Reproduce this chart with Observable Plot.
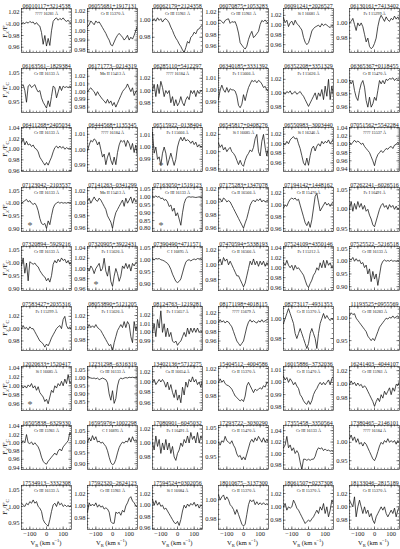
<!DOCTYPE html>
<html><head><meta charset="utf-8">
<script src="https://cdn.jsdelivr.net/npm/d3@7"></script>
<script src="https://cdn.jsdelivr.net/npm/@observablehq/plot@0.6"></script>
<style>
body{margin:0;background:#fff;}
#wrap{position:relative;width:400px;height:549px;font-family:"Liberation Serif","Times New Roman",serif;color:#111;overflow:hidden;}
.pan{position:absolute;}
.pan svg{overflow:visible;display:block;}
.ylab{position:absolute;transform:translate(-50%,-50%) rotate(-90deg);font-size:7px;white-space:nowrap;line-height:1;}
.xlab{position:absolute;transform:translate(-50%,-50%);font-size:6.5px;white-space:nowrap;line-height:1;}
sub,sup{font-size:70%;line-height:0;}
</style></head>
<body><div id="wrap"></div>
<script>
// ---------- data ----------
const velocity = [-150,-140,-130,-120,-110,-100,-90,-80,-70,-60,-50,-40,-30,-20,-10,0,10,20,30,40,50,60,70,80,90,100,110,120,130,140,150];
const xTickValues = [-100, 0, 100];

const starIds = [
 "06010117+3214538","06055681+1917131","06062179+2124358","06070875+1053283","06091241+2026527","06130161+7413402",
 "06163561−1829384","06171773−0214319","06285110+5412297","06340185+3331392","06352208+3351329","06365367+0118455",
 "06411268+2405034","06444568+1135345","06515922−0138404","06545817+0408276","06550983−3003440","07051562+5542284",
 "07123042−2103537","07141263−0341299","07163050+1519123","07175283+1347078","07194142+1448162","07262241−6026516",
 "07320894−5929216","07320905+3922431","07390490+4711571","07470594+5338193","07524109+4350146","07525522−5216518",
 "07583427+2035316","08053890+5121205","08124763−1219281","08171198+4018115","08273117−4931353","11193525+0955569",
 "12020633+1520417","12231298−6316319","13402136+5712275","15404512−4004586","16015886−3732036","16241403−4044107",
 "16505838−6329330","16595976+1002298","17080901−6045032","17293722−3030290","17355458−3350564","17380465−2146101",
 "17534913−3332308","17592320−2624123","17594524+0302056","18010675−3137300","18061507+0237308","18133046−2815189"];

const lineLabels = [
 "???? 16281 Å","Cr II 15370 Å","Cr III 15961 Å","Cr III 15961 Å","Si I 16681 Å","Fe I 15299 Å",
 "Cr III 16133 Å","Mn II 15413 Å","???? 16184 Å","Fe I 15666 Å","Fe I 15626 Å","Cr II 15470 Å",
 "Cr III 16133 Å","???? 16184 Å","Fe I 15666 Å","Si I 16685 Å","Si I 16246 Å","???? 15537 Å",
 "Cr III 16133 Å","Mn II 15413 Å","Cr III 16133 Å","Ca II 16566 Å","Cr II 15470 Å","Fe I 16491 Å",
 "Cr III 16133 Å","Fe I 15626 Å","C I 16895 Å","Cr II 16566 Å","Fe I 15212 Å","Cr III 16133 Å",
 "Fe I 15299 Å","Fe I 15626 Å","Fe I 15657 Å","???? 15679 Å","Cr II 15370 Å","Cr III 16283 Å",
 "Si I 16685 Å","Cr III 16133 Å","Ca II 16654 Å","Cr II 15370 Å","Cr II 15470 Å","Cr III 15961 Å",
 "Cr III 15961 Å","C I 16895 Å","Fe I 16491 Å","Cr II 15470 Å","Cr III 16133 Å","???? 16184 Å",
 "Cr III 16133 Å","Cr III 15961 Å","Si I 16084 Å","Cr II 15370 Å","Cr II 15370 Å","Cr II 15370 Å"];

const starred = ["06515922−0138404","07123042−2103537","07163050+1519123","07320905+3922431","12020633+1520417"];

const yDomains = [
 [0.951,1.026],[0.977,1.023],[0.962,1.014],[0.949,1.026],[0.944,1.034],[0.961,1.019],
 [0.915,1.065],[0.973,1.030],[0.964,1.036],[0.981,1.018],[0.971,1.036],[0.952,1.018],
 [0.958,1.041],[0.9855,1.0145],[0.980,1.016],[0.977,1.028],[0.942,1.034],[0.934,1.041],
 [0.888,1.062],[0.955,1.025],[0.780,1.062],[0.955,1.022],[0.955,1.030],[0.943,1.056],
 [0.892,1.065],[0.957,1.043],[0.872,1.055],[0.965,1.025],[0.954,1.043],[0.885,1.058],
 [0.9645,1.036],[0.962,1.035],[0.979,1.030],[0.940,1.033],[0.968,1.012],[0.928,1.026],
 [0.945,1.043],[0.795,1.073],[0.945,1.030],[0.959,1.023],[0.977,1.013],[0.962,1.026],
 [0.935,1.042],[0.873,1.077],[0.962,1.025],[0.907,1.057],[0.972,1.049],[0.926,1.046],
 [0.930,1.064],[0.962,1.033],[0.958,1.034],[0.9695,1.0147],[0.966,1.032],[0.966,1.032]];

const yTicks = [
 [0.96,0.98,1.00,1.02],[0.98,0.99,1.00,1.01,1.02],[0.98,1.00],[0.96,0.98,1.00,1.02],[0.96,0.98,1.00,1.02],[0.98,1.00],
 [0.95,1.00,1.05],[0.98,0.99,1.00,1.01,1.02],[0.98,1.00,1.02],[0.99,1.00,1.01],[0.98,1.00,1.02],[0.96,0.98,1.00],
 [0.96,0.98,1.00,1.02,1.04],[0.99,1.00,1.01],[0.99,1.00,1.01],[0.98,1.00,1.02],[0.96,0.98,1.00,1.02],[0.94,0.96,0.98,1.00,1.02,1.04],
 [0.90,0.95,1.00,1.05],[0.96,0.98,1.00,1.02],[0.80,0.85,0.90,0.95,1.00,1.05],[0.96,0.98,1.00,1.02],[0.96,0.98,1.00,1.02],[0.95,1.00,1.05],
 [0.90,0.95,1.00,1.05],[0.96,0.98,1.00,1.02,1.04],[0.90,0.95,1.00,1.05],[0.98,1.00,1.02],[0.96,0.98,1.00,1.02,1.04],[0.90,0.95,1.00,1.05],
 [0.98,1.00,1.02],[0.98,1.00,1.02],[0.99,1.00,1.01,1.02],[0.96,0.98,1.00,1.02],[0.98,1.00],[0.95,1.00],
 [0.96,0.98,1.00,1.02,1.04],[0.85,0.90,0.95,1.00,1.05],[0.96,0.98,1.00,1.02],[0.98,1.00,1.02],[0.98,0.99,1.00,1.01],[0.98,1.00,1.02],
 [0.94,0.96,0.98,1.00,1.02,1.04],[0.90,0.95,1.00,1.05],[0.98,1.00,1.02],[0.95,1.00,1.05],[0.98,1.00,1.02,1.04],[0.95,1.00],
 [0.95,1.00,1.05],[0.98,1.00,1.02],[0.96,0.98,1.00,1.02],[0.98,1.00],[0.98,1.00,1.02],[0.98,1.00,1.02]];

const flux01 = [1.000,1.002,1.000,1.003,1.001,1.004,1.002,1.003,0.999,1.002,0.998,0.996,0.985,0.965,0.980,0.962,0.975,0.963,0.988,1.004,1.008,1.010,1.006,1.009,1.007,1.010,1.006,1.004,1.006,1.002,1.001];
const flux02 = [1.004,1.006,1.010,1.008,1.006,1.010,1.008,1.009,1.006,1.003,1.000,0.997,0.993,0.990,0.985,0.984,0.988,0.992,0.995,0.997,0.995,0.993,0.990,0.992,0.995,0.990,0.993,0.991,0.995,1.000,1.005];
const flux03 = [1.000,1.002,0.999,1.003,1.000,1.002,0.998,1.001,1.002,1.000,0.997,0.992,0.988,0.983,0.979,0.976,0.972,0.969,0.965,0.962,0.968,0.975,0.973,0.980,0.982,0.986,0.984,0.989,0.990,0.993,0.994];
const flux04 = [1.005,1.006,1.003,1.000,1.005,1.007,1.008,1.000,1.003,1.002,1.003,0.995,0.983,0.966,0.962,0.958,0.955,0.960,0.972,0.980,0.986,0.975,0.978,0.982,0.986,0.998,1.005,1.003,1.006,1.002,1.000];
const flux05 = [1.015,1.005,1.010,0.997,1.005,1.008,1.000,1.010,1.003,1.000,0.995,0.990,0.975,0.965,0.960,0.964,0.975,0.988,0.993,0.996,0.998,1.000,0.996,1.003,0.999,1.002,1.000,0.997,0.995,0.999,0.997];
const flux06 = [1.000,1.002,1.006,0.998,0.990,1.000,0.996,1.000,0.995,0.985,0.975,0.980,0.969,0.966,0.968,0.973,0.980,0.995,1.005,1.010,1.006,1.002,1.008,1.004,1.002,1.006,1.004,1.009,1.005,1.008,1.004];
const flux07 = [1.005,1.010,0.990,0.950,1.005,1.010,1.000,1.005,1.010,0.995,0.985,0.990,0.965,0.950,0.940,0.930,0.955,0.935,0.970,1.005,1.000,0.965,0.985,1.005,0.990,1.005,1.000,1.003,1.000,1.005,1.000];
const flux08 = [1.000,1.003,1.005,1.002,1.000,0.995,1.000,0.996,0.993,0.990,0.988,0.985,0.990,0.985,0.988,0.982,0.986,0.980,0.985,0.990,0.995,1.000,1.003,1.005,1.010,1.005,1.000,1.005,0.995,1.000,1.002];
const flux09 = [1.000,1.010,0.990,1.010,0.995,1.015,1.005,0.990,1.000,0.995,1.000,0.980,0.990,0.975,0.985,0.975,0.980,0.990,0.980,0.975,0.985,0.990,0.985,1.000,0.995,1.000,0.990,1.000,0.995,1.000,0.998];
const flux10 = [0.992,1.000,1.004,1.000,0.998,1.002,0.998,1.001,1.000,1.000,0.999,0.995,0.987,0.985,0.988,0.996,0.991,0.997,1.002,1.005,1.008,1.007,1.008,1.006,1.008,1.007,1.005,1.002,1.003,1.000,0.999];
const flux11 = [1.000,0.998,1.002,1.000,1.003,0.998,1.000,1.002,0.998,1.000,1.002,0.998,0.995,0.990,0.985,0.980,0.985,0.990,0.995,1.000,0.990,1.000,0.995,1.005,0.990,1.010,0.995,1.020,0.990,1.010,0.995];
const flux12 = [1.000,0.995,1.000,0.985,0.975,0.970,0.985,0.995,1.000,0.990,0.970,0.960,0.975,0.960,0.965,0.975,0.970,0.985,1.000,0.995,1.000,0.995,1.002,1.000,1.003,1.002,1.004,1.000,1.003,1.002,1.003];
const flux13 = [1.012,1.020,1.008,1.015,1.008,1.010,1.005,1.008,1.002,1.000,0.995,0.985,0.980,0.975,0.970,0.975,0.970,0.978,0.985,0.995,1.003,1.006,1.002,1.006,1.002,1.005,1.000,1.003,1.001,1.002,1.000];
const flux14 = [0.999,1.003,1.006,1.005,1.007,1.006,1.003,1.005,1.000,0.995,0.997,0.990,0.995,0.998,0.993,0.990,0.995,0.990,0.998,1.003,1.006,1.005,1.006,1.002,1.006,1.004,1.000,1.004,0.998,1.003,0.995];
const flux15 = [1.012,0.995,1.000,0.990,0.992,0.985,0.995,1.000,0.995,0.985,0.990,0.995,0.990,0.985,0.990,1.000,1.005,1.008,1.005,1.008,1.005,1.006,1.005,1.003,1.005,1.002,1.004,1.000,1.002,1.000,1.001];
const flux16 = [1.010,1.005,1.008,1.002,1.005,1.000,1.003,1.005,1.000,0.998,0.995,0.990,0.985,0.990,0.985,0.983,0.990,0.995,0.998,1.002,1.000,1.005,1.015,1.020,1.000,0.995,1.012,1.020,1.005,0.995,1.005];
const flux17 = [1.000,0.998,1.005,1.000,1.008,1.012,1.015,1.010,1.012,1.000,0.990,0.975,0.960,0.955,0.970,0.955,0.975,0.990,0.995,0.985,0.995,1.000,0.995,1.005,1.000,1.005,1.002,1.008,1.000,1.005,1.010];
const flux18 = [1.005,1.000,1.005,1.010,1.005,1.008,1.005,1.000,1.003,0.995,0.990,0.985,0.980,0.970,0.960,0.948,0.965,0.975,0.980,0.985,0.980,0.985,0.990,0.988,0.993,0.995,0.990,0.998,1.000,1.005,1.000];
const flux19 = [1.000,1.005,1.010,1.015,1.005,1.010,1.000,0.995,1.000,0.990,0.970,0.940,0.920,0.915,0.920,0.900,0.930,0.915,0.950,0.980,0.995,1.000,1.005,1.000,1.003,1.000,1.002,1.000,1.003,1.001,1.002];
const flux20 = [1.003,1.008,1.000,1.005,1.010,1.005,1.003,1.008,1.005,1.000,0.995,0.990,0.980,0.975,0.970,0.960,0.975,0.985,0.990,0.995,1.000,1.005,0.995,1.008,1.000,1.005,1.010,1.000,1.008,1.002,1.005];
const flux21 = [1.005,1.000,1.008,1.000,1.005,0.990,0.995,0.980,0.985,0.970,0.940,0.950,0.910,0.930,0.880,0.900,0.860,0.820,0.900,0.960,0.990,1.000,1.003,1.000,1.002,1.000,0.998,1.000,1.002,1.000,0.998];
const flux22 = [1.003,1.005,1.000,1.006,1.004,1.000,1.002,1.000,0.995,0.990,0.985,0.980,0.975,0.970,0.965,0.960,0.968,0.975,0.985,0.995,1.000,1.003,1.000,1.004,1.002,1.005,1.000,1.003,1.000,1.002,1.003];
const flux23 = [0.995,1.000,0.998,1.005,1.010,1.012,1.010,1.012,1.008,1.010,1.000,0.990,0.980,0.970,0.965,0.972,0.962,0.975,0.995,1.015,1.020,1.005,0.990,0.995,1.000,1.005,1.000,1.003,0.998,1.003,1.005];
const flux24 = [1.000,1.020,0.995,1.015,1.000,1.020,1.005,1.015,1.000,1.010,0.995,1.000,0.985,0.975,0.960,0.955,0.970,0.985,1.000,1.010,1.015,1.005,1.010,1.000,1.012,1.005,1.010,1.000,1.008,1.000,1.005];
const flux25 = [0.990,1.020,0.960,1.000,0.930,1.005,1.000,0.995,1.000,0.990,0.985,0.970,0.960,0.950,0.945,0.930,0.940,0.925,0.950,0.995,1.010,1.000,1.015,1.005,1.020,1.010,1.015,1.000,1.010,0.995,1.005];
const flux26 = [1.000,0.995,1.005,1.000,0.990,1.000,1.005,1.010,0.995,1.000,1.020,0.995,0.985,1.005,0.975,0.965,0.985,1.000,0.990,0.975,0.985,1.005,1.000,1.010,1.000,1.008,0.995,1.010,1.005,1.012,1.010];
const flux27 = [1.005,1.000,1.005,1.003,1.005,1.000,0.998,0.995,0.990,0.985,0.975,0.960,0.940,0.925,0.910,0.905,0.910,0.920,0.945,0.970,0.990,0.998,1.000,0.995,1.000,1.003,1.000,1.005,1.003,1.005,1.000];
const flux28 = [1.003,1.008,1.000,1.010,1.005,1.008,1.000,1.005,1.000,0.995,0.990,0.985,0.985,0.980,0.975,0.970,0.975,0.985,0.995,1.005,1.000,1.008,1.000,1.005,0.998,1.005,1.000,1.005,0.998,1.003,1.000];
const flux29 = [1.010,1.005,1.015,1.005,1.000,1.005,0.995,1.005,0.998,1.000,0.995,0.990,0.985,0.975,0.965,0.960,0.968,0.975,0.985,0.990,1.000,0.995,1.010,1.000,1.015,1.000,1.015,1.005,1.010,1.000,1.005];
const flux30 = [1.010,1.005,1.015,1.000,1.010,1.000,1.005,0.990,0.995,0.975,0.985,0.950,0.970,0.920,0.960,0.930,0.950,0.905,0.945,0.985,1.000,1.005,1.000,1.003,1.000,1.005,1.000,1.002,1.000,1.003,1.000];
const flux31 = [1.000,1.005,1.000,1.002,0.998,1.003,1.000,1.000,0.995,0.990,0.985,0.980,0.978,0.975,0.970,0.975,0.972,0.978,0.985,0.990,0.995,1.000,1.003,1.005,1.000,1.015,1.020,1.005,1.000,1.003,0.998];
const flux32 = [1.000,1.005,1.000,1.003,1.000,1.005,1.000,0.998,0.995,0.990,0.985,0.980,0.975,0.970,0.972,0.960,0.975,0.985,0.995,1.000,1.005,1.000,1.010,1.000,1.010,1.005,0.985,0.975,1.010,0.995,1.005];
const flux33 = [1.000,1.010,0.995,1.015,1.005,1.025,1.000,1.010,0.995,1.005,0.995,1.000,0.990,0.988,0.990,0.985,0.988,0.990,0.995,1.000,0.995,1.005,0.998,1.005,1.000,1.005,1.000,1.005,1.000,1.002,1.000];
const flux34 = [1.000,1.005,1.000,1.003,0.998,1.002,1.000,0.995,0.990,0.980,0.970,0.960,0.955,0.950,0.955,0.960,0.975,0.990,1.000,1.005,1.000,1.003,1.000,0.998,1.003,1.000,1.005,1.000,1.003,1.005,1.008];
const flux35 = [0.995,1.000,1.005,1.010,1.005,1.000,0.995,0.985,0.980,0.985,0.990,0.985,0.980,0.975,0.970,0.975,0.985,0.990,0.985,0.980,0.970,0.985,0.995,1.000,1.005,1.000,1.003,1.000,0.998,1.000,0.998];
const flux36 = [1.005,1.012,1.008,1.010,1.000,0.995,0.990,0.985,0.980,0.975,0.970,0.960,0.955,0.950,0.955,0.950,0.960,0.970,0.980,0.985,0.990,0.995,1.000,0.998,1.002,1.000,1.005,1.000,1.003,1.005,1.000];
const flux37 = [1.000,0.995,1.000,0.995,1.002,0.998,1.005,0.995,1.000,0.990,0.998,0.985,0.980,0.975,0.965,0.970,0.960,0.975,0.990,0.985,1.000,0.995,1.005,1.000,1.010,1.000,1.015,1.005,1.025,1.005,1.010];
const flux38 = [1.010,1.005,1.000,0.998,1.000,0.995,1.000,0.990,0.995,1.000,0.995,0.990,0.970,0.900,0.860,0.920,0.840,0.870,0.950,0.990,1.000,0.995,1.000,1.003,1.000,1.005,1.003,1.005,1.003,1.005,1.003];
const flux39 = [1.000,1.005,0.995,1.000,1.005,1.000,1.005,1.000,0.990,1.000,0.985,0.995,0.980,0.970,0.985,0.965,0.975,0.960,0.990,0.975,1.000,0.990,1.005,1.000,1.010,1.000,1.005,0.995,1.000,0.990,1.005];
const flux40 = [1.000,1.005,1.000,1.003,0.998,0.996,0.995,0.993,0.990,0.985,0.980,0.978,0.975,0.973,0.975,0.972,0.980,0.995,1.000,0.995,0.990,0.985,0.990,0.988,0.990,0.992,0.990,0.995,0.993,1.000,0.998];
const flux41 = [1.005,1.002,1.004,1.000,1.003,1.001,0.998,1.000,0.997,0.995,0.990,0.988,0.985,0.983,0.982,0.985,0.982,0.985,0.990,0.993,0.995,0.998,1.000,0.998,1.000,0.998,1.000,1.002,0.998,1.003,1.005];
const flux42 = [1.000,1.005,1.000,1.003,0.998,1.002,0.998,1.000,0.995,0.998,0.995,0.990,0.985,0.980,0.975,0.968,0.975,0.980,0.975,0.985,0.980,0.990,0.985,0.990,0.995,0.985,0.995,0.990,1.000,0.998,1.005];
const flux43 = [1.000,1.005,1.000,1.020,1.000,0.998,1.002,0.995,1.000,0.995,0.990,0.980,0.965,0.955,0.950,0.948,0.955,0.960,0.965,0.970,0.975,0.970,0.980,0.985,0.980,0.990,0.995,1.000,1.005,1.025,1.020];
const flux44 = [1.000,1.020,1.005,1.030,1.010,1.025,1.000,1.005,0.995,1.000,0.990,0.980,0.960,0.930,0.905,0.895,0.900,0.920,0.950,0.975,0.990,1.000,0.995,1.005,1.000,1.020,1.000,1.025,1.005,1.010,1.000];
const flux45 = [1.000,0.990,1.010,0.995,1.005,0.985,1.000,0.990,1.005,0.990,1.000,0.985,0.995,0.980,0.975,0.985,0.990,1.000,0.995,1.005,1.000,1.010,1.000,1.015,1.005,1.010,1.000,1.015,1.000,1.010,1.005];
const flux46 = [1.000,0.990,1.005,1.000,1.020,1.005,1.000,0.995,1.005,0.990,0.980,0.960,0.950,0.955,0.940,0.950,0.940,0.960,0.980,1.000,1.010,1.000,1.015,1.005,1.020,1.010,1.000,1.015,1.000,1.010,1.000];
const flux47 = [1.010,1.015,1.030,1.010,1.015,1.005,1.010,1.000,1.005,1.000,0.985,0.972,0.990,0.990,0.988,0.990,0.988,0.990,0.990,0.995,1.005,1.010,1.008,1.010,1.005,1.008,1.005,1.006,1.004,1.005,1.003];
const flux48 = [1.010,1.020,1.005,1.015,1.000,1.010,0.995,1.000,0.990,1.000,0.995,0.985,0.975,0.965,0.955,0.950,0.960,0.975,0.990,1.000,0.995,1.005,1.000,1.010,1.000,1.005,1.000,1.005,0.995,1.005,1.000];
const flux49 = [1.010,1.005,1.000,1.010,1.005,1.015,1.010,1.020,1.010,1.015,1.000,0.995,0.985,0.960,0.950,0.945,0.940,0.960,0.985,1.005,1.010,1.000,1.015,1.005,1.010,1.000,1.005,1.000,1.003,1.000,1.005];
const flux50 = [0.990,1.005,1.000,1.003,1.000,1.005,0.998,1.002,0.998,1.000,0.995,0.997,0.995,0.990,0.975,0.972,0.972,0.990,0.988,0.990,0.985,0.993,0.990,1.000,1.005,1.012,1.015,1.008,1.005,1.000,0.998];
const flux51 = [1.010,1.000,1.008,1.000,1.005,0.998,1.000,0.993,0.995,0.990,0.985,0.980,0.975,0.970,0.968,0.972,0.965,0.975,0.990,1.000,0.995,1.002,0.998,1.003,1.000,1.005,0.998,1.002,0.995,1.000,0.998];
const flux52 = [1.005,1.000,1.003,1.005,1.000,1.003,1.000,0.995,0.993,0.990,0.985,0.990,0.985,0.980,0.975,0.973,0.975,0.985,0.995,1.000,0.998,1.000,0.995,0.998,0.995,0.997,0.995,0.997,0.995,0.996,0.995];
const flux53 = [1.000,1.005,0.995,1.000,0.998,1.000,1.010,1.005,0.998,0.995,0.990,0.985,0.980,0.975,0.978,0.980,0.978,0.982,0.985,0.990,0.995,0.990,1.000,0.995,1.005,0.990,1.000,0.985,0.995,1.010,1.005];
const flux54 = [1.010,1.005,1.000,1.015,0.985,1.000,1.010,1.000,0.990,1.000,0.990,0.995,0.985,0.990,0.980,0.975,0.985,0.990,0.995,1.000,0.995,1.000,0.990,0.985,0.990,0.995,0.990,0.998,0.985,0.995,1.000];

const spectra = [flux01,flux02,flux03,flux04,flux05,flux06,flux07,flux08,flux09,flux10,flux11,flux12,
 flux13,flux14,flux15,flux16,flux17,flux18,flux19,flux20,flux21,flux22,flux23,flux24,
 flux25,flux26,flux27,flux28,flux29,flux30,flux31,flux32,flux33,flux34,flux35,flux36,
 flux37,flux38,flux39,flux40,flux41,flux42,flux43,flux44,flux45,flux46,flux47,flux48,
 flux49,flux50,flux51,flux52,flux53,flux54];

// ---------- layout ----------
const W = 50, H = 44, ML = 16, MT = 8;
const PX = 65.5, PY = 59.6, FX0 = 21, FY0 = 8;
const NCOL = 6, NROW = 9;
const XDOM = [-150, 150];
const wrap = document.getElementById("wrap");
const fmt = d3.format(".2f");
const ink = "#1a1a1a";

starIds.forEach((id, k) => {
  const row = Math.floor(k / NCOL), col = k % NCOL, last = row === NROW - 1;
  const [lo, hi] = yDomains[k];
  const tks = yTicks[k].filter(t => t >= lo && t <= hi);
  const step = yTicks[k][1] - yTicks[k][0];
  const mstep = Math.abs(step - 0.02) < 1e-6 ? step / 4 : step / 5;
  const minor = d3.range(Math.ceil(lo / mstep - 1e-9), Math.floor(hi / mstep + 1e-9) + 1).map(n => n * mstep);
  const yLen = 2.6 / H * (hi - lo), yLenM = 1.3 / H * (hi - lo);
  const span = XDOM[1] - XDOM[0];
  const xLen = 2.6 / W * span, xLenM = 1.3 / W * span;
  const xMinor = d3.range(-140, 150, 20);
  const data = velocity.map((v, i) => ({v, f: spectra[k][i]}));
  const rule = {stroke: ink, strokeWidth: 0.5};
  const marks = [
    Plot.ruleY(tks, {y: d => d, x1: XDOM[0], x2: XDOM[0] + xLen, ...rule}),
    Plot.ruleY(tks, {y: d => d, x1: XDOM[1] - xLen, x2: XDOM[1], ...rule}),
    Plot.ruleY(minor, {y: d => d, x1: XDOM[0], x2: XDOM[0] + xLenM, ...rule}),
    Plot.ruleY(minor, {y: d => d, x1: XDOM[1] - xLenM, x2: XDOM[1], ...rule}),
    Plot.ruleX(xTickValues, {x: d => d, y1: lo, y2: lo + yLen, ...rule}),
    Plot.ruleX(xTickValues, {x: d => d, y1: hi - yLen, y2: hi, ...rule}),
    Plot.ruleX(xMinor, {x: d => d, y1: lo, y2: lo + yLenM, ...rule}),
    Plot.ruleX(xMinor, {x: d => d, y1: hi - yLenM, y2: hi, ...rule}),
    Plot.frame({stroke: ink, strokeWidth: 0.6}),
    Plot.line(data, {x: "v", y: "f", stroke: "#111", strokeWidth: 0.75, clip: true}),
    Plot.axisY(tks, {tickSize: 0, tickPadding: 2, tickFormat: fmt, fontSize: 6.5, label: null}),
    Plot.text([id], {text: d => d, frameAnchor: "top", dy: -5, fontSize: 6, fill: ink}),
    Plot.text([lineLabels[k]], {text: d => d, frameAnchor: "top", dy: 3.8, fontSize: 4.2, fill: ink})
  ];
  if (starred.includes(id)) {
    marks.push(Plot.text(["*"], {text: d => d, frameAnchor: "bottom-left", dx: 6, dy: -3, fontSize: 10, fill: "#555"}));
  }
  if (last) {
    marks.push(Plot.axisX(xTickValues, {tickSize: 0, tickPadding: 2, fontSize: 6.5, label: null}));
  }
  const MB = last ? 10 : 0;
  const svg = Plot.plot({
    width: ML + W, height: MT + H + MB,
    marginLeft: ML, marginRight: 0, marginTop: MT, marginBottom: MB,
    x: last ? {domain: XDOM} : {domain: XDOM, axis: null},
    y: {domain: [lo, hi]},
    style: {fontFamily: '"Liberation Serif","Times New Roman",serif', overflow: "visible", background: "transparent", color: ink},
    marks
  });
  const div = document.createElement("div");
  div.className = "pan";
  div.style.left = (FX0 + PX * col - ML) + "px";
  div.style.top = (FY0 + PY * row - MT) + "px";
  div.appendChild(svg);
  wrap.appendChild(div);
});

for (let r = 0; r < NROW; r++) {
  const yl = document.createElement("div");
  yl.className = "ylab";
  yl.innerHTML = "F<sub>λ</sub>/F<sub>C</sub>";
  yl.style.left = "5px";
  yl.style.top = (FY0 + PY * r + H / 2) + "px";
  wrap.appendChild(yl);
}
for (let c = 0; c < NCOL; c++) {
  const xl = document.createElement("div");
  xl.className = "xlab";
  xl.innerHTML = "V<sub>R</sub> (km s<sup>−1</sup>)";
  xl.style.left = (FX0 + PX * c + W / 2) + "px";
  xl.style.top = (FY0 + PY * (NROW - 1) + H + 14) + "px";
  wrap.appendChild(xl);
}
</script>
</body></html>
